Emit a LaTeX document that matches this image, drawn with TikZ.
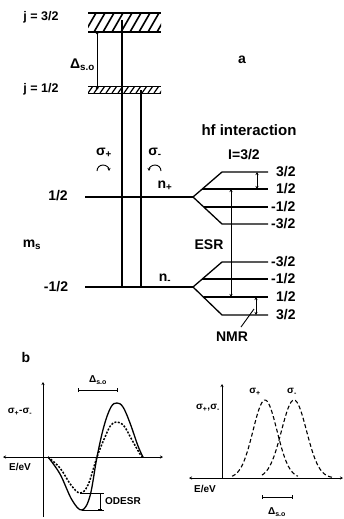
\documentclass[tikz,border=0pt]{standalone}
\usepackage{fontspec}
\setmainfont{Liberation Sans}
\usetikzlibrary{arrows.meta}
\begin{document}
\begin{tikzpicture}[x=1pt,y=-1pt,
	level/.style={line width=1.3pt},
	thinline/.style={line width=0.9pt},
	lbl/.style={font=\fontsize{14}{16}\selectfont\bfseries,inner sep=0pt},
	jlbl/.style={font=\fontsize{12.5}{14}\selectfont\bfseries,inner sep=0pt},
	smalllbl/.style={font=\fontsize{10}{11}\selectfont\bfseries,inner sep=0pt},
	dots/.style={line width=1.5pt,dash pattern=on 2pt off 1.5pt},
	dashes/.style={line width=1.1pt,dash pattern=on 4pt off 2.5pt},
	tip/.style={-{Stealth[length=3pt,width=3pt]}},
	tips/.style={{Stealth[length=3pt,width=3pt]}-{Stealth[length=3pt,width=3pt]}}]
\useasboundingbox (0,0) rectangle (343,519);
\begin{scope}
	\clip (88,13) rectangle (161,32);
	\foreach \x in {76,85,...,166}
		\draw[line width=1.6pt] (\x,32) -- ++(11,-19);
\end{scope}
\draw[level] (88,13) -- (161,13);
\draw[level] (88,32) -- (161,32);
\begin{scope}
	\clip (88,86) rectangle (161,93);
	\foreach \x in {82,88,...,164}
		\draw[line width=1.2pt] (\x,93) -- ++(5,-7);
\end{scope}
\draw[line width=0.8pt] (88,86) -- (161,86);
\draw[line width=0.8pt] (88,93) -- (161,93);
\node[jlbl] (j32) at (41,17) {j = 3/2};
\node[jlbl] (j12) at (41,89) {j = 1/2};
\draw[thinline] (97,32) -- (97,88);
\fill (97,33) circle(1.5pt) (97,88) circle(1.5pt);
\node[lbl,anchor=east] (dso) at (95,65) {Δ\textsubscript{s.o}};
\node[lbl] (a) at (242,60) {a};
\draw[level] (122,20) -- (122,287);
\draw[level] (141,90) -- (141,287);
\node[lbl] (sp) at (104,153) {σ\textsubscript{+}};
\node[lbl] (sm) at (155,153) {σ\textsubscript{-}};
\draw[thinline,tip] (97,171) arc[start angle=180,end angle=360,radius=6];
\draw[thinline,tip] (161,171) arc[start angle=360,end angle=180,radius=6];
\node[lbl] (mhalf) at (58,196) {1/2};
\node[lbl] (mmhalf) at (56,287) {-1/2};
\node[lbl] (ms) at (32,245) {m\textsubscript{s}};
\node[lbl] (np) at (165,186) {n\textsubscript{+}};
\node[lbl] (nm) at (165,279) {n\textsubscript{-}};
\draw[level] (85,197) -- (193,197);
\draw[level] (85,287) -- (193,287);
\node[font=\fontsize{15}{17}\selectfont\bfseries,inner sep=0pt] (hf) at (249,130) {hf interaction};
\node[lbl] (spin) at (244,155) {I=3/2};
\draw[level] (193,197) -- (222,172) -- (268,172);
\draw[level] (202,189) -- (268,189);
\draw[level] (204,207) -- (268,207);
\draw[level] (193,197) -- (222,224) -- (268,224);
\node[lbl,anchor=west] (u1) at (276,172) {3/2};
\node[lbl,anchor=west] (u2) at (276,189) {1/2};
\node[lbl,anchor=west] (u3) at (271,207) {-1/2};
\node[lbl,anchor=west] (u4) at (271,224) {-3/2};
\draw[level] (193,287) -- (222,262) -- (268,262);
\draw[level] (202,279) -- (268,279);
\draw[level] (204,297) -- (268,297);
\draw[level] (193,287) -- (222,315) -- (268,315);
\node[lbl,anchor=west] (l1) at (271,262) {-3/2};
\node[lbl,anchor=west] (l2) at (271,279) {-1/2};
\node[lbl,anchor=west] (l3) at (276,297) {1/2};
\node[lbl,anchor=west] (l4) at (276,315) {3/2};
\draw[thinline,tips] (231,189) -- (231,297);
\node[lbl] (esr) at (209,245) {ESR};
\draw[thinline,tips] (257,172) -- (257,189);
\draw[thinline,tips] (256,297) -- (256,315);
\node[lbl] (nmr) at (232,337) {NMR};
\draw[thinline] (241,327) -- (254,309);
\node[lbl] (b) at (26,357) {b};
\draw[thinline,tip] (43,517) -- (43,382);
\draw[thinline,tips] (3,457) -- (163,457);
\node[smalllbl] (ydiff) at (20,412) {σ\textsubscript{+}-σ\textsubscript{-}};
\node[smalllbl] (e1) at (20,467) {E/eV};
\draw[thinline,{Bar[width=4pt]}-{Bar[width=4pt]}] (78,390) -- (118,390);
\node[smalllbl] (dso1) at (98,380) {Δ\textsubscript{s.o}};
\draw[level] plot[smooth,tension=0.6] coordinates {(48,457) (60,474) (72,500) (82,510) (90,496) (97,457) (104,426) (111,407) (117,403) (123,407) (130,423) (138,446) (143,457)};
\draw[dots] plot[smooth,tension=0.6] coordinates {(48,457) (60,468) (71,485) (80,493) (88,485) (97,457) (105,437) (111,425) (117,422) (124,426) (132,440) (140,454) (143,457)};
\draw[thinline] (80,493) -- (104,493);
\draw[thinline] (82,510) -- (104,510);
\draw[thinline,{Bar[width=4pt]}-{Bar[width=4pt]}] (100,493) -- (100,510);
\node[smalllbl,anchor=west] (odesr) at (105,501) {ODESR};
\draw[thinline,tip] (222,478) -- (222,384);
\draw[thinline,tips] (189,478) -- (343,478);
\node[smalllbl] (ypair) at (208,408) {σ\textsubscript{+},σ\textsubscript{-}};
\node[smalllbl] (e2) at (205,489) {E/eV};
\draw[dashes] plot[domain=232:298,samples=50] (\x,{478-78*exp(-((\x-265)/12)^2/2)});
\draw[dashes] plot[domain=262:333,samples=50] (\x,{478-78*exp(-((\x-294)/12.5)^2/2)});
\node[smalllbl] (gp) at (255,392) {σ\textsubscript{+}};
\node[smalllbl] (gm) at (292,392) {σ\textsubscript{-}};
\draw[thinline,{Bar[width=4pt]}-{Bar[width=4pt]}] (262,497) -- (293,497);
\node[smalllbl] (dso2) at (277,512) {Δ\textsubscript{s.o}};
\end{tikzpicture}
\end{document}
